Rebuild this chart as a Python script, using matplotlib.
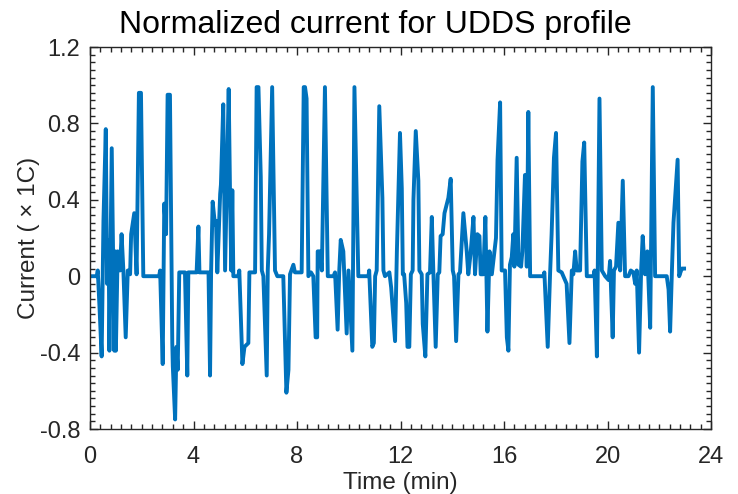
import numpy as np
import matplotlib
matplotlib.use("Agg")
import matplotlib.pyplot as plt
from matplotlib.ticker import MultipleLocator

plt.rcParams['font.family'] = ['Liberation Sans', 'DejaVu Sans']

# UDDS current profile (time in min, current in C-rate)
time_min = [
    0.00, 0.26, 0.30, 0.37, 0.45, 0.52, 0.61, 0.66, 0.72, 0.75, 0.84, 0.94, 0.98,
    1.00, 1.07, 1.16, 1.22, 1.29, 1.38, 1.46, 1.55, 1.59, 1.71, 1.80, 1.89, 1.97,
    2.06, 2.67, 2.71, 2.81, 2.87, 2.94, 3.00, 3.09, 3.18, 3.20, 3.29, 3.34, 3.39,
    3.45, 3.67, 3.76, 3.80,
    4.12, 4.19, 4.23, 4.58, 4.64, 4.68, 4.74, 4.83, 4.87, 4.92, 5.03, 5.06, 5.15,
    5.22, 5.36, 5.41, 5.46, 5.50, 5.54, 5.73, 5.77, 5.89, 5.97, 6.12, 6.16, 6.38,
    6.44, 6.51, 6.60, 6.64, 6.70, 6.83, 6.87, 6.92, 7.04, 7.15, 7.24, 7.47, 7.59,
    7.67, 7.73, 7.86, 7.92,
    8.18, 8.26, 8.31, 8.37, 8.44, 8.54, 8.63, 8.72, 8.78, 8.80, 8.89, 8.96, 9.08,
    9.19, 9.41, 9.47, 9.57, 9.63, 9.69, 9.79, 9.92, 9.99, 10.14, 10.22, 10.37,
    10.76, 10.79, 10.91, 10.97, 11.02, 11.08, 11.18, 11.30, 11.34, 11.40, 11.57,
    11.64, 11.79, 11.86, 11.98,
    12.05, 12.09, 12.14, 12.22, 12.27, 12.34, 12.40, 12.47, 12.50, 12.59, 12.69,
    12.73, 12.82, 12.86, 12.96, 13.04, 13.14, 13.21, 13.27, 13.36, 13.44, 13.50,
    13.55, 13.63, 13.70, 13.85, 13.94, 14.02, 14.07, 14.15, 14.24, 14.30, 14.43,
    14.56, 14.62, 14.71, 14.82, 14.88, 14.97, 15.05, 15.10, 15.20, 15.28, 15.36,
    15.44, 15.53, 15.69, 15.75, 15.85, 15.91,
    16.04, 16.11, 16.17, 16.23, 16.30, 16.36, 16.40, 16.49, 16.56, 16.66, 16.71,
    16.81, 16.88, 16.94, 17.01, 17.52, 17.56, 17.69, 17.78, 17.84, 17.93, 18.01,
    18.10, 18.23, 18.42, 18.53, 18.62, 18.68, 18.75, 18.81, 18.94, 19.03, 19.10,
    19.20, 19.46, 19.50, 19.59, 19.69, 19.78, 19.91,
    20.04, 20.10, 20.20, 20.25, 20.33, 20.42, 20.49, 20.59, 20.68, 20.81, 20.90,
    21.00, 21.07, 21.13, 21.22, 21.30, 21.36, 21.45, 21.54, 21.65, 21.75, 21.84,
    22.29, 22.36, 22.42, 22.49, 22.55, 22.71, 22.77, 22.87, 22.96,
]
current = [
    0.00, 0.00, 0.03, -0.17, -0.42, 0.29, 0.77, -0.04, 0.19, -0.39, 0.67, -0.39, 0.13,
    -0.39, 0.13, 0.03, 0.22, 0.03, -0.32, 0.03, 0.01, 0.22, 0.33, 0.01, 0.96, 0.96,
    0.00, 0.00, 0.03, -0.46, 0.38, 0.22, 0.95, 0.95, -0.35, -0.47, -0.75, -0.37, -0.49,
    0.02, 0.02, -0.52, 0.02,
    0.02, 0.26, 0.02, 0.02, -0.52, 0.02, 0.39, 0.27, 0.29, 0.02, 0.43, 0.48, 0.90,
    0.03, 0.98, 0.45, 0.03, 0.45, 0.00, 0.00, 0.03, -0.46, -0.37, -0.35, 0.02, 0.02,
    0.99, 0.99, 0.52, 0.03, 0.00, -0.52, 0.03, 0.22, 0.99, 0.03, 0.00, 0.00, -0.61,
    -0.49, 0.01, 0.06, 0.02,
    0.02, 0.99, 0.99, 0.93, 0.00, 0.02, 0.00, -0.32, -0.32, 0.13, 0.13, 0.03, 0.99,
    0.00, 0.00, 0.02, -0.28, 0.02, 0.19, 0.13, -0.30, 0.03, -0.39, 0.99, 0.00,
    0.00, 0.03, -0.37, -0.35, 0.00, 0.03, 0.89, 0.41, 0.03, 0.00, 0.02,
    -0.06, -0.34, 0.13, 0.75,
    0.46, 0.01, 0.01, -0.14, -0.37, -0.37, 0.01, 0.03, 0.40, 0.76, 0.50,
    0.03, 0.01, -0.25, -0.42, 0.01, 0.02, 0.31, 0.02, -0.37, 0.01, 0.02,
    0.21, 0.22, 0.33, 0.41, 0.51, 0.03, 0.00, -0.34, 0.01, 0.02, 0.33,
    0.13, 0.01, 0.12, 0.31, 0.01, 0.22, 0.21, 0.01, 0.01, 0.31, -0.29,
    0.13, 0.01, 0.20, 0.61, 0.91, 0.03,
    0.03, -0.32, -0.39, 0.06, 0.10, 0.22, 0.05, 0.62, 0.06, 0.05, 0.13,
    0.53, 0.05, 0.86, 0.00, 0.00, 0.02, -0.37, 0.01, 0.22, 0.62, 0.75,
    0.03, 0.02, -0.04, -0.35, 0.03, 0.01, 0.13, 0.03, 0.03, 0.60, 0.70,
    0.00, 0.00, 0.03, -0.42, 0.93, 0.03, 0.00,
    -0.02, 0.08, -0.32, 0.03, 0.05, 0.28, 0.03, 0.50, 0.00, 0.00, 0.03,
    0.02, -0.04, 0.03, -0.40, 0.03, 0.21, 0.01, 0.13, -0.27, 0.99, 0.00,
    0.00, -0.07, -0.29, 0.03, 0.28, 0.61, 0.00, 0.04, 0.04,
]

x_ticks = [0, 4, 8, 12, 16, 20, 24]
y_ticks = [-0.8, -0.4, 0, 0.4, 0.8, 1.2]
y_tick_labels = ['-0.8', '-0.4', '0', '0.4', '0.8', '1.2']

dark = '#262626'

fig = plt.figure(figsize=(7.38, 4.94), dpi=100)
ax = fig.add_axes([90 / 738, 1 - 429 / 494, 621 / 738, 382 / 494])

ax.plot(time_min, current, color='#0072BD', linewidth=2.8, solid_joinstyle='round')

ax.set_xlim(0, 24)
ax.set_ylim(-0.8, 1.2)
ax.set_xticks(x_ticks)
ax.set_xticklabels([str(t) for t in x_ticks])
ax.set_yticks(y_ticks)
ax.set_yticklabels(y_tick_labels)
ax.xaxis.set_minor_locator(MultipleLocator(0.4))
ax.yaxis.set_minor_locator(MultipleLocator(0.04))

ax.tick_params(which='both', direction='in', top=True, right=True,
               colors=dark, labelsize=17, width=1.0)
ax.tick_params(which='major', length=6)
ax.tick_params(which='minor', length=3.5)
ax.tick_params(axis='x', which='major', pad=12)
ax.tick_params(axis='y', which='major', pad=7)
for s in ax.spines.values():
    s.set_color(dark)
    s.set_linewidth(1.0)

# title sits a little left of the axes centre in the reference
ax.set_title('Normalized current for UDDS profile', fontsize=23, color='black',
             pad=10, x=(375 - 90) / 621)
ax.set_xlabel('Time (min)', fontsize=17.5, color=dark, labelpad=3)
ax.set_ylabel('Current ( × 1C)', fontsize=17.5, color=dark, labelpad=0)

fig.savefig('out.png', dpi=100)
